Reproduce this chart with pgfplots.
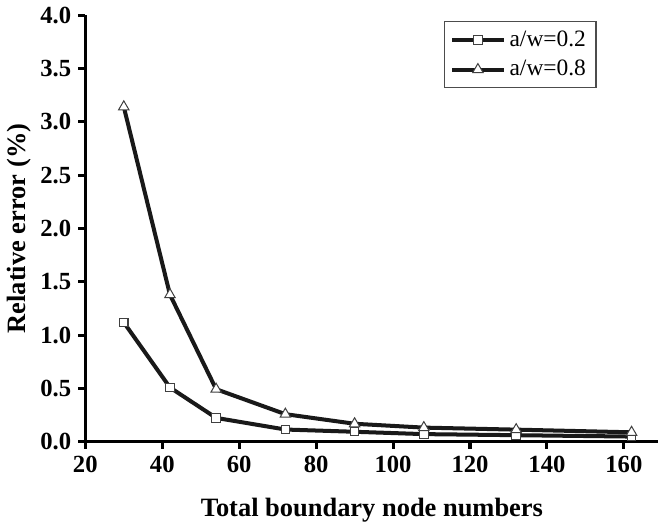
\documentclass[border=0pt]{standalone}
\usepackage{fontspec}
\setmainfont{Liberation Serif}
\usepackage{pgfplots}
\pgfplotsset{compat=1.18}
\begin{document}
\begin{tikzpicture}
\begin{axis}[
  scale only axis,
  width=286pt, height=213pt,
  xmin=20, xmax=169, ymin=0, ymax=4.0,
  xtick={20,40,...,160},
  ytick={0,0.5,...,4.0},
  yticklabel style={/pgf/number format/.cd,fixed,fixed zerofill,precision=1},
  /pgf/number format/assume math mode=true,
  tick label style={font=\fontsize{12.3}{14}\selectfont\bfseries},
  axis x line*=bottom, axis y line*=left,
  axis line style={line width=1.5pt,-},
  tick style={line width=1.5pt,black},
  tick align=outside,
  major tick length=3.5pt,
  xlabel={Total boundary node numbers},
  ylabel={Relative error (\%)},
  label style={font=\fontsize{13.2}{15}\selectfont\bfseries},
  xlabel style={yshift=-6pt},
  ylabel style={yshift=-2pt},
  legend style={at={(0.892,0.986)},anchor=north east,draw=black!70,line width=0.6pt,
    font=\fontsize{11.7}{13}\selectfont, row sep=1.5pt, inner xsep=3pt, inner ysep=2.5pt},
  legend cell align=left,
  legend image code/.code={
    \draw[#1,mark repeat=2,mark phase=2] plot coordinates {(0cm,0cm) (0.45cm,0cm) (0.9cm,0cm)};
  },
]
\addplot[line width=2pt, black!90, mark=square*, mark size=2.1pt,
  mark options={fill=white, draw=black!75, line width=0.5pt, solid}]
  coordinates {(30,1.12) (42,0.51) (54,0.225) (72,0.116) (90,0.095) (108,0.073) (132,0.063) (162,0.05)};
\addlegendentry{a/w=0.2}
\addplot[line width=2pt, black!90, mark=triangle*, mark size=3pt,
  mark options={fill=white, draw=black!75, line width=0.5pt, solid}]
  coordinates {(30,3.14) (42,1.38) (54,0.494) (72,0.26) (90,0.17) (108,0.134) (132,0.115) (162,0.09)};
\addlegendentry{a/w=0.8}
\end{axis}
\end{tikzpicture}
\end{document}
